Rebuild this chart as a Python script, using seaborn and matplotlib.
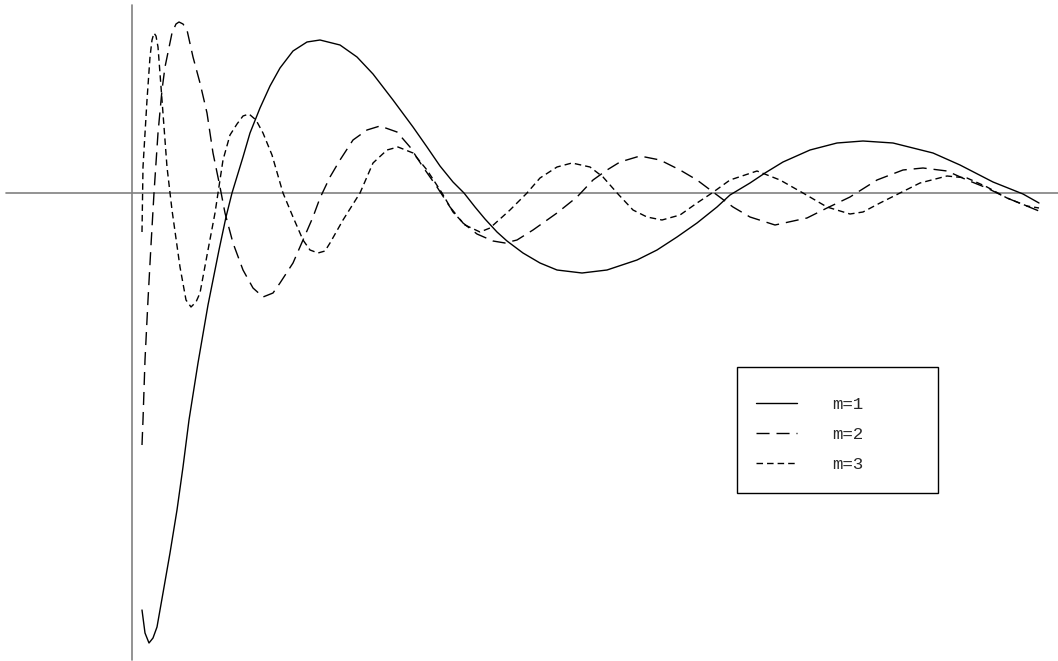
import numpy as np
import pandas as pd
import matplotlib
matplotlib.use("Agg")
import matplotlib.pyplot as plt
from matplotlib.patches import Rectangle
import seaborn as sns

# ---- data ----
x_m1 = [1.0, 1.3, 1.7, 2.1, 2.5, 3.1, 3.8, 4.5, 5.1, 5.7, 6.6, 7.6, 8.7, 9.4, 10.0,
        11.1, 11.8, 12.8, 13.8, 14.8, 16.1, 17.5, 18.8, 20.8, 22.5, 24.1, 26.1, 28.1,
        29.5, 30.8, 32.1, 33.2, 34.3, 35.3, 36.5, 37.5, 39.1, 40.8, 42.5, 45.0, 47.5,
        50.5, 52.5, 54.5, 56.5, 58.5, 59.8, 61.8, 63.3, 65.1, 67.8, 70.5, 73.1, 76.1,
        80.1, 82.8, 86.1, 89.1, 90.7]
y_m1 = [-4.17, -4.40, -4.50, -4.45, -4.34, -4.00, -3.60, -3.17, -2.74, -2.27, -1.70,
        -1.12, -0.57, -0.24, 0.00, 0.36, 0.60, 0.85, 1.07, 1.25, 1.42, 1.51, 1.53, 1.48,
        1.36, 1.19, 0.93, 0.66, 0.46, 0.27, 0.11, 0.00, -0.14, -0.26, -0.39, -0.48,
        -0.60, -0.70, -0.77, -0.80, -0.77, -0.67, -0.57, -0.44, -0.30, -0.14, -0.02,
        0.10, 0.20, 0.31, 0.43, 0.50, 0.52, 0.50, 0.40, 0.28, 0.11, -0.01, -0.10]

x_m2 = [1.0, 1.1, 1.3, 1.6, 1.9, 2.2, 2.6, 3.0, 3.3, 4.0, 4.4, 4.7, 5.1, 5.5, 6.1, 6.8,
        7.5, 8.1, 8.8, 9.3, 10.1, 11.1, 12.1, 13.1, 14.1, 14.8, 16.1, 17.1, 18.1, 18.8,
        19.8, 20.8, 22.1, 23.5, 24.8, 26.5, 27.8, 29.1, 30.5, 31.8, 33.1, 34.5, 36.1,
        37.3, 38.5, 40.1, 42.5, 44.5, 46.1, 47.5, 48.8, 50.8, 52.8, 54.8, 56.5, 58.5,
        60.1, 61.8, 64.3, 67.5, 69.5, 71.8, 74.5, 77.1, 79.1, 81.5, 83.5, 85.5, 87.5,
        90.7]
y_m2 = [-2.52, -2.27, -1.67, -1.07, -0.52, 0.00, 0.60, 1.03, 1.26, 1.60, 1.69, 1.71,
        1.69, 1.63, 1.36, 1.10, 0.80, 0.40, 0.06, -0.20, -0.50, -0.77, -0.95, -1.04,
        -1.00, -0.90, -0.70, -0.47, -0.24, -0.05, 0.16, 0.33, 0.53, 0.63, 0.67, 0.61,
        0.46, 0.26, 0.06, -0.14, -0.30, -0.41, -0.48, -0.50, -0.47, -0.37, -0.20,
        -0.04, 0.13, 0.23, 0.31, 0.37, 0.33, 0.23, 0.13, -0.02, -0.14, -0.24, -0.32,
        -0.25, -0.15, -0.04, 0.13, 0.23, 0.25, 0.22, 0.13, 0.05, -0.05, -0.18]

x_m3 = [1.0, 1.1, 1.5, 1.8, 2.0, 2.2, 2.4, 2.6, 3.0, 3.5, 4.0, 4.8, 5.4, 5.9, 6.4, 6.8,
        7.6, 8.3, 9.1, 9.8, 10.5, 11.1, 11.7, 12.4, 13.1, 14.0, 15.1, 16.1, 17.1, 17.8,
        18.6, 19.3, 19.8, 21.1, 22.8, 24.1, 25.5, 26.6, 28.1, 29.5, 31.0, 32.1, 33.3,
        34.8, 35.8, 37.8, 39.5, 40.8, 42.5, 44.0, 45.8, 47.1, 48.6, 50.1, 51.5, 53.0,
        54.8, 56.5, 58.0, 59.8, 62.5, 64.8, 67.1, 69.5, 71.8, 73.1, 74.8, 76.8, 78.8,
        81.5, 83.5, 85.5, 87.5, 89.5, 90.7]
y_m3 = [-0.39, 0.26, 0.93, 1.36, 1.53, 1.60, 1.57, 1.46, 0.93, 0.26, -0.17, -0.74,
        -1.07, -1.14, -1.09, -1.00, -0.57, -0.20, 0.33, 0.58, 0.69, 0.77, 0.79, 0.73,
        0.60, 0.38, 0.00, -0.24, -0.47, -0.57, -0.60, -0.58, -0.50, -0.27, 0.00, 0.30,
        0.43, 0.46, 0.40, 0.23, 0.00, -0.19, -0.32, -0.39, -0.35, -0.17, 0.00, 0.15,
        0.26, 0.30, 0.26, 0.16, -0.01, -0.17, -0.24, -0.27, -0.22, -0.10, 0.00, 0.13,
        0.22, 0.13, 0.00, -0.14, -0.21, -0.19, -0.10, 0.00, 0.10, 0.17, 0.15, 0.06,
        -0.05, -0.13, -0.15]

labels = ["m=1", "m=2", "m=3"]

# ---- styling ----
sns.set_style("white")
plt.rcParams["lines.scale_dashes"] = False
plt.rcParams["font.family"] = ["Liberation Mono", "DejaVu Sans Mono"]

W, H = 1058, 661
fig = plt.figure(figsize=(W / 100, H / 100), dpi=100)
ax = fig.add_axes([0, 0, 1, 1])
ax.set_xlim(-13.2, 92.6)
ax.set_ylim(-4.68, 1.93)
ax.axis("off")

# axis lines
axis_col = "#808080"
ax.plot([-12.6, 92.6], [0, 0], color=axis_col, lw=1.2, zorder=1)
ax.plot([0, 0], [-4.67, 1.88], color=axis_col, lw=1.2, zorder=1)

styles = ["-", (0, (9.4, 5.0)), (0, (4.7, 2.9))]
series = [(x_m1, y_m1), (x_m2, y_m2), (x_m3, y_m3)]
for (xs, ys), lab, ls in zip(series, labels, styles):
    df = pd.DataFrame({"x": xs, "y": ys})
    sns.lineplot(data=df, x="x", y="y", ax=ax, color="black", lw=1.0,
                 linestyle=ls, estimator=None, sort=False, zorder=3,
                 legend=False)

lines = ax.get_lines()[2:5]
for ln, lab in zip(lines, labels):
    ln.set_label(lab)

leg = ax.legend(handles=lines, labels=labels, loc="upper left",
                bbox_to_anchor=(756 / W, (H - 397) / H),
                bbox_transform=fig.transFigure, frameon=False,
                borderpad=0, borderaxespad=0, fontsize=12.5,
                handlelength=2.36, handletextpad=2.0, labelspacing=0.84)

fig.patches.append(Rectangle((737 / W, (H - 493) / H), 201 / W, 126 / H,
                             transform=fig.transFigure, fill=False,
                             edgecolor="black", lw=1.0))

fig.savefig("out.png", dpi=100)
